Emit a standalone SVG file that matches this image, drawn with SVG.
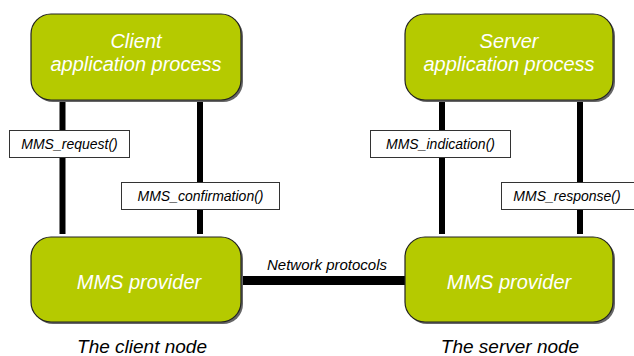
<svg xmlns="http://www.w3.org/2000/svg" width="634" height="356" viewBox="0 0 634 356">
<style>
.box{fill:#b5ca00;stroke:#222;stroke-width:1.2}
.shadow{fill:#666}
.ntext{fill:#fff;font-family:"Liberation Sans",Arial,sans-serif;font-style:italic;font-size:20px;text-anchor:middle}
.lbl{fill:#fff;stroke:#333;stroke-width:1}
.ltext{fill:#000;font-family:"Liberation Sans",Arial,sans-serif;font-style:italic;font-size:14px;text-anchor:middle}
.line{stroke:#000;stroke-width:6;fill:none}
.cap{fill:#000;font-family:"Liberation Sans",Arial,sans-serif;font-style:italic;font-size:19px;text-anchor:middle}
</style>
<rect width="634" height="356" fill="#fff"/>
<g id="connectors">
<line class="line" x1="62.5" y1="100" x2="62.5" y2="234"/>
<line class="line" x1="200" y1="100" x2="200" y2="234"/>
<line class="line" x1="442" y1="100" x2="442" y2="234"/>
<line class="line" x1="580" y1="100" x2="580" y2="234"/>
<line x1="241" y1="280.5" x2="405" y2="280.5" stroke="#000" stroke-width="9"/>
<text x="267" y="270" style="font-family:'Liberation Sans',Arial,sans-serif;font-style:italic;font-size:15px">Network protocols</text>
<g id="lbl-request"><rect class="lbl" x="9.5" y="130.5" width="120" height="27"/><text class="ltext" x="69.5" y="149">MMS_request()</text></g>
<g id="lbl-confirmation"><rect class="lbl" x="121.5" y="182.5" width="158" height="27"/><text class="ltext" x="200.5" y="201">MMS_confirmation()</text></g>
<g id="lbl-indication"><rect class="lbl" x="370.5" y="130.5" width="140" height="27"/><text class="ltext" x="440.5" y="149">MMS_indication()</text></g>
<g id="lbl-response"><rect class="lbl" x="501.5" y="182.5" width="140" height="27"/><text class="ltext" x="567" y="201">MMS_response()</text></g>
</g>
<g id="client-app">
<rect class="shadow" x="33" y="16" width="210" height="86" rx="20"/>
<rect class="box" x="31" y="14" width="210" height="86" rx="20"/>
<text class="ntext" x="136" y="48">Client</text>
<text class="ntext" x="136" y="71">application process</text>
</g>
<g id="client-provider">
<rect class="shadow" x="33" y="239" width="210" height="85" rx="20"/>
<rect class="box" x="31" y="237" width="210" height="85" rx="20"/>
<text class="ntext" x="139" y="289">MMS provider</text>
</g>
<g id="server-app">
<rect class="shadow" x="407" y="16" width="208" height="86" rx="20"/>
<rect class="box" x="405" y="14" width="208" height="86" rx="20"/>
<text class="ntext" x="509" y="48">Server</text>
<text class="ntext" x="509" y="71">application process</text>
</g>
<g id="server-provider">
<rect class="shadow" x="407" y="239" width="208" height="85" rx="20"/>
<rect class="box" x="405" y="237" width="208" height="85" rx="20"/>
<text class="ntext" x="509" y="289">MMS provider</text>
</g>
<g id="captions">
<text class="cap" x="142" y="353">The client node</text>
<text class="cap" x="510" y="353">The server node</text>
</g>
</svg>
